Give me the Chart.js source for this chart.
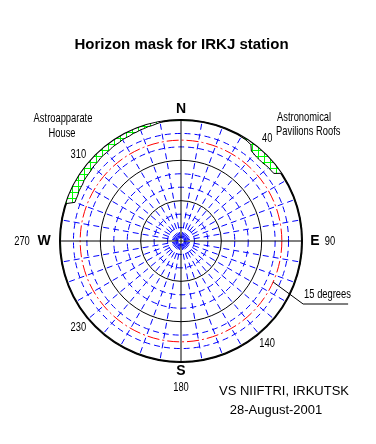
<!DOCTYPE html>
<html>
<head>
<meta charset="utf-8">
<script src="https://cdn.jsdelivr.net/npm/chart.js@4/dist/chart.umd.min.js"></script>
<style>
  html, body { margin: 0; padding: 0; background: #fff; }
  #wrap { width: 376px; height: 444px; }
</style>
</head>
<body>
<div id="wrap"><canvas id="chart" width="376" height="444"></canvas></div>
<script>
// azimuth categories, degrees clockwise from north, 2 degree step
const azimuths = Array.from({ length: 180 }, (_, i) => i * 2);

// horizon mask readings (azimuth -> elevation of the obstruction, degrees)
const houseAz = [290, 292, 294, 296, 298, 300, 302, 304, 306, 308, 310, 312, 314, 316, 318, 320,
                 322, 324, 326, 328, 330, 332, 334, 336, 338, 340, 342, 344, 346, 348, 350];
const houseEl = [6, 6, 6, 5.5, 5.5, 5.5, 5, 5, 5, 5, 4.5, 4.5, 4.5, 4, 4, 4,
                 4, 3.5, 3.5, 3.5, 3, 3, 3, 2.5, 2.5, 2, 2, 1.5, 1.5, 1, 0.5];
const pavilionAz = [30, 32, 34, 36, 38, 40, 42, 44, 46, 48, 50, 52, 54];
const pavilionEl = [0.5, 0.5, 1, 1.5, 5, 5.5, 6, 6, 6, 5.5, 5, 5, 4.5];

// elevation circles
const blackRings = [0, 30, 60];
const redRings = [15];
const blueRings = [10, 20, 40, 50, 70, 80];

// azimuth spokes
const boldSpokes = [0, 90, 180, 270];
const spokeStep = 10;

// labels
const compassText = ['N', 'E', 'S', 'W'];
const compassAz = [0, 90, 180, 270];
const mainDegText = ['90', '180', '270'];
const sideDegText = ['310', '40', '140', '230'];
const sideDegAz = [310, 40, 140, 230];

const maskEl = azimuths.map(az => {
  let i = houseAz.indexOf(az);
  if (i >= 0) return houseEl[i];
  i = pavilionAz.indexOf(az);
  if (i >= 0) return pavilionEl[i];
  return 0;
});

function ringStyle(el) {
  if (blackRings.includes(el)) return { color: '#000000', width: el === 0 ? 2 : 1, dash: [] };
  if (redRings.includes(el)) return { color: '#ff0000', width: 1, dash: [12, 3, 2, 3] };
  if (blueRings.includes(el)) return { color: '#0000ff', width: 1, dash: [6, 4] };
  return { color: 'rgba(0,0,0,0)', width: 0, dash: [] };
}

function spokeStyle(az) {
  if (boldSpokes.includes(az)) return { color: '#000000', width: 1, dash: [] };
  if (az % spokeStep === 0) return { color: '#0000ff', width: 1, dash: [6, 4] };
  return { color: 'rgba(0,0,0,0)', width: 0, dash: [] };
}

// green hatch for the masked band
function makeHatch() {
  const c = document.createElement('canvas');
  c.width = 6; c.height = 6;
  const g = c.getContext('2d');
  g.fillStyle = '#ffffff';
  g.fillRect(0, 0, 6, 6);
  g.fillStyle = '#00ff00';
  g.fillRect(0, 0, 6, 1);
  g.fillRect(0, 0, 1, 6);
  return g.createPattern(c, 'repeat');
}

const SANS = 'Arial, "Liberation Sans", sans-serif';

// the original uses a tall condensed font; squeeze Arial horizontally
function narrowText(ctx, text, x, y, align) {
  ctx.save();
  ctx.translate(x, y);
  ctx.scale(0.72, 1);
  ctx.textAlign = align || 'center';
  ctx.fillText(text, 0, 0);
  ctx.restore();
}

const textPlugin = {
  id: 'maskTexts',
  afterDraw(chart) {
    const r = chart.scales.r;
    const ctx = chart.ctx;
    const R = r.drawingArea, cx = r.xCenter, cy = r.yCenter;
    const idx = az => azimuths.indexOf(az);
    ctx.save();
    ctx.fillStyle = '#000';
    ctx.textBaseline = 'middle';
    ctx.textAlign = 'center';

    // compass letters
    ctx.font = 'bold 14px ' + SANS;
    const letterOffsets = [[0, -11], [13, 0], [0, 9], [-16, 0]];
    compassText.forEach((t, i) => {
      const p = r.getPointPosition(idx(compassAz[i]), R);
      ctx.fillText(t, p.x + letterOffsets[i][0], p.y + letterOffsets[i][1]);
    });

    // degree numbers
    ctx.font = '13px ' + SANS;
    narrowText(ctx, mainDegText[0], cx + R + 28, cy);
    narrowText(ctx, mainDegText[1], cx, cy + R + 25);
    narrowText(ctx, mainDegText[2], cx - R - 38, cy);
    sideDegText.forEach((t, i) => {
      const p = r.getPointPosition(idx(sideDegAz[i]), R + 13);
      narrowText(ctx, t, p.x, p.y);
    });

    // obstruction names
    narrowText(ctx, 'Astroapparate', 63, 118);
    narrowText(ctx, 'House', 62, 133);
    narrowText(ctx, 'Astronomical', 277, 117, 'left');
    narrowText(ctx, 'Pavilions Roofs', 276, 131, 'left');

    // 15 degrees leader
    const d15 = r.getDistanceFromCenterForValue(90 - redRings[0]);
    const p = r.getPointPosition(idx(114), d15);
    ctx.strokeStyle = '#000';
    ctx.lineWidth = 1;
    ctx.beginPath();
    ctx.moveTo(p.x, p.y);
    ctx.lineTo(p.x + 30, p.y + 22);
    ctx.lineTo(p.x + 75, p.y + 22);
    ctx.stroke();
    narrowText(ctx, '15 degrees', p.x + 31, p.y + 12, 'left');

    // footer
    ctx.textAlign = 'center';
    ctx.font = '13px ' + SANS;
    ctx.fillText('VS NIIFTRI, IRKUTSK', 284, 391);
    ctx.fillText('28-August-2001', 276, 410);
    ctx.restore();
  }
};

const ctx = document.getElementById('chart').getContext('2d');
new Chart(ctx, {
  type: 'radar',
  data: {
    labels: azimuths,
    datasets: [{
      label: 'Horizon mask',
      data: maskEl.map(el => 90 - el),
      borderColor: '#000000',
      borderWidth: 1,
      backgroundColor: makeHatch(),
      fill: 'end',
      pointRadius: 0,
      tension: 0
    }]
  },
  options: {
    responsive: false,
    animation: false,
    events: [],
    layout: { padding: { left: 60, right: 73, top: 0, bottom: 81 } },
    plugins: {
      legend: { display: false },
      tooltip: { enabled: false },
      title: {
        display: true,
        text: 'Horizon mask for IRKJ station',
        color: '#000',
        font: { family: SANS, size: 15, weight: 'bold' },
        padding: { top: 36, bottom: 66 }
      }
    },
    scales: {
      r: {
        min: 0,
        max: 90,
        ticks: { display: false, stepSize: 5 },
        pointLabels: { display: false },
        grid: {
          circular: true,
          color: c => ringStyle(90 - Math.round(c.tick.value)).color,
          lineWidth: c => ringStyle(90 - Math.round(c.tick.value)).width
        },
        border: {
          dash: c => ringStyle(90 - Math.round(c.tick.value)).dash
        },
        angleLines: {
          color: c => spokeStyle(azimuths[c.index]).color,
          lineWidth: c => spokeStyle(azimuths[c.index]).width,
          borderDash: c => spokeStyle(azimuths[c.index]).dash,
          borderDashOffset: 7
        }
      }
    }
  },
  plugins: [textPlugin]
});
</script>
</body>
</html>
